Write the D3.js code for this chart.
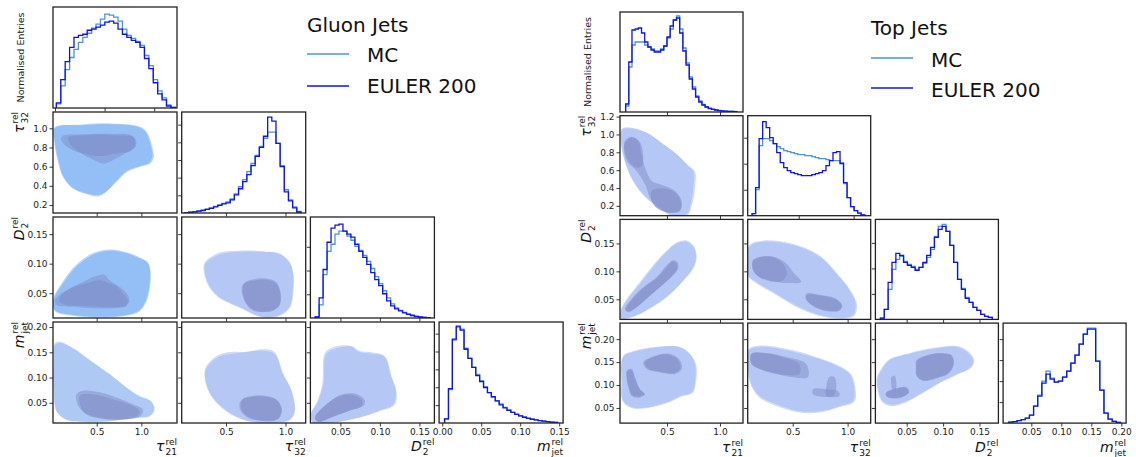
<!DOCTYPE html>
<html>
<head>
<meta charset="utf-8">
<script src="https://cdn.jsdelivr.net/npm/d3@7"></script>
<style>
  body { margin: 0; background: #fff; }
  text { font-family: "DejaVu Sans", sans-serif; }
</style>
</head>
<body>
<svg id="chart"></svg>
<script>
// ---------------- data ----------------
const variables = ["tau21", "tau32", "D2", "mjet"];
const models = ["MC", "EULER 200"];
const titles = ["Gluon Jets", "Top Jets"];

// tick values
const gluonXTicks = { tau21: [0.5, 1.0], tau32: [0.5, 1.0], D2: [0.05, 0.10, 0.15], mjet: [0.00, 0.05, 0.10, 0.15] };
const gluonYTicks = { tau32: [0.2, 0.4, 0.6, 0.8, 1.0], D2: [0.05, 0.10, 0.15], mjet: [0.05, 0.10, 0.15, 0.20] };
const gluonHistXTicks = { tau21: [0.0, 0.5, 1.0], tau32: [0.5, 1.0], D2: [0.05, 0.10, 0.15], mjet: [0.00, 0.05, 0.10, 0.15] };
const topXTicks = { tau21: [0.5, 1.0], tau32: [0.5, 1.0], D2: [0.05, 0.10, 0.15], mjet: [0.05, 0.10, 0.15, 0.20] };
const topYTicks = { tau32: [0.2, 0.4, 0.6, 0.8, 1.0, 1.2], D2: [0.05, 0.10, 0.15], mjet: [0.05, 0.10, 0.15, 0.20] };
// density ticks on the diagonal (fraction of panel height)
const gluonHistYTicks = [null, [0.175, 0.35, 0.525, 0.70, 0.875], [0.235, 0.47, 0.705], [0.177, 0.354, 0.531, 0.708, 0.885]];
const topHistYTicks = [null, [0.26, 0.52, 0.78], [0.255, 0.51, 0.765], [0.21, 0.42, 0.63, 0.84]];

// axis limits
const gluonXLim = { tau21: [0.01, 1.40], tau32: [0.127, 1.17], D2: [0.012, 0.169] };
const gluonYLim = { tau32: [0.117, 1.17], D2: [0.008, 0.179], mjet: [0.01, 0.21] };
const gluonHistLim = { tau21: [-0.02, 1.23], tau32: [0.127, 1.17], D2: [0.012, 0.169], mjet: [-0.004, 0.155] };
const topXLim = { tau21: [0.057, 1.217], tau32: [0.09, 1.21], D2: [0.007, 0.176] };
const topYLim = { tau32: [0.09, 1.21], D2: [0.014, 0.193], mjet: [0.017, 0.235] };
const topHistLim = { tau21: [0.057, 1.217], tau32: [0.036, 1.155], D2: [0.007, 0.176], mjet: [0.003, 0.208] };

// histograms: [first edge, bin width] and normalised bin heights
const gluonTau21Bins = [0.014, 0.0444];
const gluonTau21MC = [0.04,0.22,0.38,0.50,0.58,0.65,0.70,0.74,0.79,0.83,0.88,0.93,0.92,0.90,0.86,0.78,0.72,0.69,0.66,0.62,0.52,0.42,0.28,0.17,0.10,0.03,0.005];
const gluonTau21Euler = [0.05,0.28,0.46,0.60,0.70,0.72,0.73,0.77,0.78,0.80,0.82,0.85,0.86,0.84,0.78,0.73,0.70,0.67,0.65,0.60,0.49,0.39,0.25,0.14,0.08,0.02,0.005];
const gluonTau32Bins = [0.15, 0.035];
const gluonTau32MC = [0.004,0.009,0.014,0.02,0.028,0.038,0.05,0.065,0.08,0.095,0.11,0.14,0.19,0.26,0.33,0.41,0.49,0.57,0.66,0.74,0.80,0.80,0.69,0.47,0.23,0.13,0.06,0.015];
const gluonTau32Euler = [0.003,0.008,0.012,0.018,0.025,0.035,0.045,0.06,0.075,0.09,0.10,0.13,0.18,0.24,0.31,0.38,0.47,0.56,0.65,0.76,0.95,0.91,0.69,0.46,0.21,0.12,0.05,0.01];
const gluonD2Bins = [0.018, 0.00503];
const gluonD2MC = [0.01,0.13,0.43,0.66,0.73,0.83,0.86,0.86,0.81,0.77,0.71,0.67,0.62,0.56,0.49,0.41,0.34,0.27,0.20,0.14,0.10,0.075,0.055,0.04,0.028,0.017,0.01,0.006,0.003];
const gluonD2Euler = [0.01,0.20,0.48,0.75,0.89,0.92,0.93,0.86,0.83,0.80,0.73,0.66,0.60,0.53,0.45,0.38,0.32,0.24,0.17,0.12,0.09,0.07,0.05,0.035,0.025,0.015,0.01,0.006,0.003];
const gluonMjetBins = [0.003, 0.005];
const gluonMjetMC = [0.04,0.33,0.82,0.95,0.93,0.74,0.64,0.55,0.48,0.42,0.36,0.30,0.26,0.22,0.19,0.155,0.13,0.105,0.087,0.07,0.058,0.047,0.038,0.03,0.024,0.018,0.013,0.009,0.005];
const gluonMjetEuler = [0.04,0.34,0.83,0.96,0.92,0.73,0.64,0.55,0.47,0.41,0.35,0.30,0.26,0.22,0.18,0.15,0.125,0.105,0.085,0.07,0.057,0.046,0.037,0.03,0.024,0.018,0.013,0.009,0.005];

const topTau21Bins = [0.11, 0.03];
const topTau21MC = [0.06,0.45,0.67,0.70,0.70,0.70,0.67,0.65,0.63,0.61,0.61,0.63,0.66,0.74,0.83,0.92,0.96,0.83,0.64,0.49,0.35,0.25,0.16,0.11,0.075,0.05,0.037,0.028,0.02,0.015,0.011,0.008,0.006,0.005,0.004];
const topTau21Euler = [0.08,0.50,0.82,0.83,0.84,0.79,0.70,0.65,0.62,0.60,0.60,0.62,0.66,0.75,0.86,0.92,0.94,0.79,0.61,0.47,0.33,0.23,0.15,0.10,0.07,0.05,0.035,0.027,0.02,0.014,0.01,0.008,0.006,0.005,0.004];
const topTau32Bins = [0.076, 0.032];
const topTau32MC = [0.02,0.26,0.70,0.77,0.77,0.75,0.72,0.69,0.67,0.65,0.64,0.63,0.62,0.61,0.61,0.60,0.60,0.59,0.58,0.57,0.57,0.56,0.55,0.55,0.55,0.53,0.32,0.18,0.09,0.05,0.025,0.008];
const topTau32Euler = [0.02,0.28,0.77,0.94,0.88,0.78,0.72,0.63,0.53,0.48,0.45,0.43,0.42,0.41,0.40,0.40,0.40,0.41,0.42,0.43,0.45,0.50,0.55,0.63,0.64,0.52,0.33,0.18,0.09,0.05,0.025,0.008];
const topD2Bins = [0.0139, 0.0053];
const topD2MC = [0.013,0.10,0.30,0.50,0.60,0.63,0.58,0.55,0.53,0.50,0.52,0.56,0.62,0.70,0.83,0.93,0.95,0.88,0.74,0.57,0.40,0.31,0.22,0.17,0.12,0.09,0.05,0.03,0.02];
const topD2Euler = [0.013,0.10,0.37,0.57,0.66,0.64,0.57,0.54,0.52,0.49,0.52,0.57,0.64,0.72,0.82,0.90,0.93,0.88,0.74,0.57,0.40,0.30,0.21,0.17,0.12,0.09,0.05,0.03,0.02];
const topMjetBins = [0.0124, 0.0069];
const topMjetMC = [0.01,0.015,0.025,0.035,0.05,0.08,0.17,0.28,0.42,0.52,0.45,0.41,0.42,0.46,0.52,0.60,0.68,0.79,0.89,0.95,0.95,0.62,0.33,0.10,0.04,0.017,0.007];
const topMjetEuler = [0.01,0.015,0.025,0.035,0.05,0.08,0.17,0.27,0.40,0.49,0.44,0.41,0.42,0.46,0.52,0.60,0.68,0.79,0.89,0.94,0.94,0.62,0.33,0.10,0.04,0.017,0.007];

// KDE contour outlines (outer = wide level, inner = core level), data units [x, y]
const gluonTau21Tau32 = [
  { model: "MC", level: "outer", pts: [[0.032,1.009],[0.347,1.033],[0.643,1.044],[0.977,1.009],[1.051,0.956],[1.106,0.816],[1.125,0.710],[1.088,0.640],[0.977,0.605],[0.829,0.552],[0.717,0.447],[0.606,0.342],[0.532,0.307],[0.384,0.324],[0.236,0.377],[0.125,0.500],[0.069,0.675],[0.032,0.851]] },
  { model: "EULER", level: "outer", pts: [[0.025,1.000],[0.330,1.040],[0.660,1.050],[0.990,1.015],[1.070,0.950],[1.125,0.800],[1.140,0.700],[1.100,0.630],[0.990,0.600],[0.840,0.545],[0.720,0.440],[0.600,0.330],[0.520,0.290],[0.380,0.315],[0.230,0.372],[0.120,0.495],[0.060,0.670],[0.025,0.850]] },
  { model: "MC", level: "inner", pts: [[0.106,0.914],[0.347,0.938],[0.643,0.942],[0.903,0.921],[0.932,0.833],[0.884,0.763],[0.717,0.738],[0.532,0.710],[0.347,0.738],[0.199,0.788],[0.117,0.851]] },
  { model: "EULER", level: "inner", pts: [[0.180,0.903],[0.384,0.928],[0.680,0.928],[0.921,0.903],[0.940,0.815],[0.829,0.745],[0.680,0.668],[0.569,0.633],[0.458,0.675],[0.347,0.728],[0.217,0.816]] }
];
const gluonTau21D2 = [
  { model: "MC", level: "outer", pts: [[0.014,0.038],[0.125,0.067],[0.273,0.095],[0.458,0.115],[0.643,0.122],[0.829,0.118],[0.977,0.109],[1.069,0.103],[1.095,0.089],[1.088,0.061],[1.051,0.038],[0.977,0.021],[0.829,0.013],[0.532,0.010],[0.236,0.013],[0.032,0.021]] },
  { model: "EULER", level: "outer", pts: [[0.012,0.040],[0.120,0.070],[0.270,0.098],[0.460,0.118],[0.650,0.124],[0.840,0.119],[0.990,0.110],[1.080,0.100],[1.105,0.086],[1.095,0.058],[1.055,0.035],[0.980,0.019],[0.830,0.012],[0.530,0.009],[0.230,0.012],[0.030,0.020]] },
  { model: "MC", level: "inner", pts: [[0.088,0.044],[0.199,0.058],[0.347,0.069],[0.495,0.079],[0.588,0.081],[0.643,0.072],[0.717,0.064],[0.810,0.047],[0.847,0.038],[0.829,0.028],[0.643,0.026],[0.421,0.028],[0.162,0.030],[0.088,0.035]] },
  { model: "EULER", level: "inner", pts: [[0.032,0.038],[0.162,0.055],[0.384,0.067],[0.532,0.072],[0.643,0.067],[0.754,0.061],[0.847,0.047],[0.866,0.035],[0.791,0.027],[0.532,0.024],[0.236,0.027],[0.051,0.030]] }
];
const gluonTau21Mjet = [
  { model: "MC", level: "outer", pts: [[0.032,0.164],[0.088,0.169],[0.236,0.157],[0.421,0.134],[0.643,0.107],[0.829,0.081],[0.977,0.064],[1.106,0.054],[1.143,0.037],[1.088,0.024],[0.903,0.021],[0.643,0.014],[0.347,0.013],[0.162,0.017],[0.051,0.034],[0.021,0.081],[0.021,0.134]] },
  { model: "EULER", level: "outer", pts: [[0.030,0.168],[0.090,0.171],[0.240,0.158],[0.425,0.135],[0.650,0.106],[0.835,0.080],[0.985,0.062],[1.115,0.052],[1.150,0.036],[1.095,0.023],[0.905,0.020],[0.640,0.013],[0.345,0.012],[0.160,0.016],[0.048,0.034],[0.018,0.081],[0.018,0.134]] },
  { model: "MC", level: "inner", pts: [[0.273,0.067],[0.347,0.074],[0.532,0.071],[0.717,0.061],[0.903,0.047],[1.014,0.037],[0.995,0.024],[0.829,0.017],[0.532,0.019],[0.384,0.027],[0.292,0.044]] },
  { model: "EULER", level: "inner", pts: [[0.310,0.064],[0.458,0.067],[0.680,0.057],[0.903,0.044],[0.977,0.034],[0.940,0.022],[0.717,0.017],[0.495,0.022],[0.347,0.034]] }
];
const gluonTau32D2 = [
  { model: "MC", level: "outer", pts: [[0.328,0.100],[0.441,0.115],[0.610,0.120],[0.808,0.120],[0.949,0.117],[1.034,0.103],[1.062,0.084],[1.062,0.058],[1.034,0.027],[0.949,0.013],[0.808,0.010],[0.610,0.027],[0.441,0.044],[0.356,0.064],[0.322,0.084]] },
  { model: "EULER", level: "outer", pts: [[0.318,0.101],[0.435,0.118],[0.605,0.122],[0.800,0.121],[0.955,0.116],[1.040,0.100],[1.068,0.082],[1.068,0.057],[1.040,0.026],[0.955,0.012],[0.805,0.009],[0.605,0.026],[0.435,0.043],[0.350,0.063],[0.315,0.085]] },
  { model: "MC", level: "inner", pts: [[0.652,0.067],[0.723,0.073],[0.836,0.075],[0.921,0.069],[0.955,0.050],[0.949,0.030],[0.893,0.020],[0.780,0.019],[0.695,0.027],[0.644,0.047]] },
  { model: "EULER", level: "inner", pts: [[0.638,0.064],[0.751,0.072],[0.864,0.072],[0.935,0.064],[0.963,0.044],[0.943,0.027],[0.836,0.019],[0.723,0.021],[0.652,0.038]] }
];
const gluonTau32Mjet = [
  { model: "MC", level: "outer", pts: [[0.342,0.121],[0.441,0.141],[0.554,0.147],[0.667,0.151],[0.808,0.153],[0.907,0.147],[0.977,0.107],[1.048,0.074],[1.076,0.034],[1.034,0.017],[0.893,0.011],[0.695,0.014],[0.554,0.027],[0.441,0.047],[0.356,0.074],[0.322,0.107]] },
  { model: "EULER", level: "outer", pts: [[0.335,0.123],[0.440,0.145],[0.560,0.151],[0.670,0.150],[0.800,0.156],[0.905,0.151],[0.985,0.106],[1.055,0.073],[1.080,0.034],[1.040,0.016],[0.890,0.010],[0.690,0.013],[0.550,0.026],[0.435,0.046],[0.350,0.074],[0.318,0.108]] },
  { model: "MC", level: "inner", pts: [[0.624,0.054],[0.723,0.062],[0.836,0.062],[0.935,0.054],[0.972,0.034],[0.935,0.017],[0.808,0.014],[0.681,0.021],[0.616,0.037]] },
  { model: "EULER", level: "inner", pts: [[0.640,0.057],[0.730,0.064],[0.830,0.064],[0.925,0.056],[0.965,0.036],[0.930,0.018],[0.810,0.015],[0.690,0.022],[0.628,0.038]] }
];
const gluonD2Mjet = [
  { model: "MC", level: "outer", pts: [[0.0306,0.141],[0.0348,0.151],[0.0474,0.159],[0.0643,0.161],[0.0728,0.151],[0.0896,0.147],[0.1065,0.141],[0.115,0.101],[0.120,0.074],[0.117,0.047],[0.098,0.034],[0.0728,0.021],[0.039,0.011],[0.0158,0.011],[0.013,0.027],[0.0221,0.054],[0.0285,0.087]] },
  { model: "EULER", level: "outer", pts: [[0.029,0.143],[0.034,0.155],[0.048,0.163],[0.065,0.162],[0.074,0.153],[0.089,0.150],[0.105,0.143],[0.114,0.102],[0.121,0.074],[0.119,0.046],[0.099,0.033],[0.073,0.020],[0.039,0.010],[0.015,0.010],[0.0125,0.027],[0.021,0.054],[0.027,0.087]] },
  { model: "MC", level: "inner", pts: [[0.0179,0.021],[0.0306,0.044],[0.0474,0.064],[0.0601,0.069],[0.0728,0.066],[0.0812,0.054],[0.0791,0.044],[0.0601,0.034],[0.039,0.022],[0.0221,0.013]] },
  { model: "EULER", level: "inner", pts: [[0.0175,0.020],[0.029,0.043],[0.046,0.061],[0.059,0.066],[0.071,0.063],[0.078,0.053],[0.077,0.043],[0.059,0.033],[0.039,0.021],[0.022,0.012]] }
];

const topTau21Tau32 = [
  { model: "MC", level: "outer", pts: [[0.073,1.060],[0.151,1.079],[0.309,1.023],[0.466,0.892],[0.592,0.779],[0.702,0.648],[0.749,0.592],[0.749,0.405],[0.724,0.217],[0.686,0.105],[0.560,0.086],[0.434,0.180],[0.309,0.292],[0.183,0.480],[0.104,0.704],[0.066,0.929]] },
  { model: "EULER", level: "outer", pts: [[0.070,1.050],[0.150,1.070],[0.310,1.015],[0.470,0.885],[0.600,0.770],[0.712,0.640],[0.765,0.585],[0.765,0.400],[0.735,0.210],[0.695,0.095],[0.560,0.075],[0.430,0.175],[0.300,0.290],[0.178,0.480],[0.100,0.705],[0.063,0.930]] },
  { model: "MC", level: "inner", pts: [[0.104,0.910],[0.167,0.967],[0.230,0.929],[0.261,0.779],[0.293,0.629],[0.356,0.480],[0.434,0.442],[0.576,0.367],[0.639,0.255],[0.623,0.143],[0.529,0.124],[0.403,0.180],[0.340,0.292],[0.293,0.442],[0.214,0.592],[0.120,0.704],[0.095,0.817]] },
  { model: "EULER", level: "inner", pts: [[0.104,0.929],[0.167,0.974],[0.246,0.910],[0.277,0.742],[0.261,0.648],[0.214,0.629],[0.151,0.686],[0.104,0.798]] },
  { model: "EULER", level: "inner", pts: [[0.356,0.367],[0.466,0.397],[0.576,0.349],[0.629,0.255],[0.623,0.150],[0.529,0.120],[0.419,0.161],[0.356,0.255]] }
];
const topTau21D2 = [
  { model: "MC", level: "outer", pts: [[0.066,0.030],[0.120,0.048],[0.246,0.078],[0.371,0.108],[0.497,0.135],[0.592,0.150],[0.686,0.153],[0.749,0.144],[0.774,0.126],[0.749,0.108],[0.654,0.084],[0.529,0.060],[0.403,0.042],[0.246,0.025],[0.120,0.016],[0.066,0.017]] },
  { model: "EULER", level: "outer", pts: [[0.063,0.031],[0.115,0.049],[0.240,0.080],[0.365,0.110],[0.495,0.137],[0.595,0.152],[0.690,0.155],[0.755,0.145],[0.780,0.125],[0.752,0.106],[0.650,0.082],[0.525,0.058],[0.400,0.040],[0.245,0.023],[0.120,0.015],[0.063,0.016]] },
  { model: "MC", level: "inner", pts: [[0.104,0.033],[0.167,0.051],[0.277,0.072],[0.403,0.090],[0.497,0.111],[0.560,0.120],[0.598,0.117],[0.607,0.105],[0.544,0.090],[0.434,0.072],[0.324,0.054],[0.214,0.036],[0.136,0.027]] },
  { model: "EULER", level: "inner", pts: [[0.110,0.031],[0.175,0.050],[0.285,0.071],[0.410,0.089],[0.500,0.108],[0.555,0.118],[0.590,0.114],[0.595,0.104],[0.530,0.089],[0.425,0.070],[0.315,0.052],[0.210,0.035],[0.140,0.028]] }
];
const topTau21Mjet = [
  { model: "MC", level: "outer", pts: [[0.088,0.161],[0.183,0.172],[0.434,0.183],[0.623,0.183],[0.717,0.168],[0.765,0.146],[0.765,0.109],[0.733,0.084],[0.623,0.076],[0.529,0.065],[0.371,0.054],[0.183,0.051],[0.088,0.065],[0.073,0.109]] },
  { model: "EULER", level: "outer", pts: [[0.085,0.163],[0.185,0.174],[0.440,0.184],[0.625,0.182],[0.720,0.166],[0.775,0.145],[0.775,0.108],[0.745,0.083],[0.630,0.074],[0.530,0.063],[0.370,0.052],[0.180,0.049],[0.085,0.063],[0.070,0.109]] },
  { model: "MC", level: "inner", pts: [[0.277,0.150],[0.403,0.165],[0.529,0.168],[0.623,0.154],[0.639,0.135],[0.576,0.124],[0.434,0.128],[0.309,0.135]] },
  { model: "MC", level: "inner", pts: [[0.120,0.131],[0.167,0.135],[0.199,0.117],[0.246,0.091],[0.293,0.080],[0.246,0.073],[0.167,0.076],[0.136,0.095],[0.120,0.113]] },
  { model: "EULER", level: "inner", pts: [[0.290,0.149],[0.410,0.164],[0.520,0.166],[0.610,0.153],[0.625,0.136],[0.565,0.126],[0.440,0.129],[0.320,0.136]] },
  { model: "EULER", level: "inner", pts: [[0.125,0.130],[0.165,0.133],[0.195,0.116],[0.240,0.092],[0.285,0.081],[0.240,0.075],[0.170,0.078],[0.140,0.095],[0.125,0.112]] }
];
const topTau32D2 = [
  { model: "MC", level: "outer", pts: [[0.108,0.144],[0.229,0.153],[0.502,0.147],[0.745,0.126],[0.896,0.096],[1.017,0.066],[1.072,0.042],[1.048,0.022],[0.926,0.017],[0.745,0.022],[0.563,0.036],[0.351,0.060],[0.169,0.081],[0.096,0.093]] },
  { model: "EULER", level: "outer", pts: [[0.100,0.146],[0.225,0.155],[0.505,0.149],[0.755,0.127],[0.905,0.096],[1.030,0.065],[1.085,0.041],[1.060,0.020],[0.930,0.015],[0.745,0.020],[0.555,0.034],[0.345,0.058],[0.165,0.079],[0.092,0.092]] },
  { model: "MC", level: "inner", pts: [[0.138,0.120],[0.229,0.127],[0.351,0.125],[0.442,0.114],[0.502,0.099],[0.578,0.081],[0.472,0.079],[0.351,0.081],[0.199,0.090],[0.138,0.102]] },
  { model: "MC", level: "inner", pts: [[0.623,0.060],[0.745,0.058],[0.896,0.051],[0.951,0.039],[0.926,0.030],[0.805,0.029],[0.684,0.038],[0.617,0.051]] },
  { model: "EULER", level: "inner", pts: [[0.138,0.118],[0.229,0.126],[0.340,0.124],[0.420,0.112],[0.445,0.095],[0.400,0.083],[0.300,0.082],[0.190,0.090],[0.140,0.103]] },
  { model: "EULER", level: "inner", pts: [[0.630,0.058],[0.750,0.057],[0.890,0.050],[0.945,0.038],[0.920,0.030],[0.805,0.030],[0.690,0.038],[0.625,0.050]] }
];
const topTau32Mjet = [
  { model: "MC", level: "outer", pts: [[0.102,0.176],[0.199,0.183],[0.442,0.176],[0.684,0.161],[0.866,0.146],[1.017,0.124],[1.063,0.087],[1.048,0.065],[0.926,0.054],[0.745,0.043],[0.563,0.043],[0.351,0.058],[0.199,0.076],[0.123,0.102],[0.096,0.146]] },
  { model: "EULER", level: "outer", pts: [[0.098,0.178],[0.200,0.186],[0.445,0.179],[0.690,0.163],[0.875,0.147],[1.030,0.124],[1.075,0.086],[1.060,0.063],[0.930,0.052],[0.745,0.040],[0.560,0.040],[0.345,0.055],[0.195,0.073],[0.118,0.100],[0.090,0.147]] },
  { model: "MC", level: "inner", pts: [[0.123,0.168],[0.260,0.170],[0.442,0.161],[0.623,0.146],[0.638,0.117],[0.502,0.117],[0.351,0.124],[0.199,0.135],[0.123,0.146]] },
  { model: "MC", level: "inner", pts: [[0.684,0.091],[0.805,0.091],[0.911,0.087],[0.926,0.076],[0.805,0.074],[0.684,0.080]] },
  { model: "EULER", level: "inner", pts: [[0.123,0.167],[0.260,0.169],[0.420,0.160],[0.560,0.146],[0.560,0.124],[0.440,0.122],[0.300,0.128],[0.180,0.137],[0.125,0.147]] },
  { model: "EULER", level: "inner", pts: [[0.805,0.095],[0.835,0.118],[0.881,0.117],[0.896,0.091],[0.866,0.076],[0.805,0.076]] }
];
const topD2Mjet = [
  { model: "MC", level: "outer", pts: [[0.0149,0.131],[0.0264,0.154],[0.0542,0.168],[0.0866,0.179],[0.119,0.183],[0.133,0.172],[0.141,0.154],[0.138,0.139],[0.119,0.124],[0.096,0.106],[0.0727,0.084],[0.0496,0.065],[0.0311,0.057],[0.0172,0.065],[0.0102,0.095],[0.0102,0.117]] },
  { model: "EULER", level: "outer", pts: [[0.0140,0.133],[0.0260,0.156],[0.0545,0.170],[0.0870,0.181],[0.1200,0.185],[0.1350,0.173],[0.1430,0.154],[0.1390,0.138],[0.1190,0.122],[0.0950,0.104],[0.0720,0.082],[0.0490,0.062],[0.0310,0.054],[0.0165,0.062],[0.0095,0.095],[0.0095,0.118]] },
  { model: "MC", level: "inner", pts: [[0.0635,0.154],[0.0774,0.165],[0.0959,0.170],[0.112,0.165],[0.115,0.146],[0.107,0.124],[0.0913,0.115],[0.0727,0.109],[0.0635,0.120],[0.0626,0.139]] },
  { model: "MC", level: "inner", pts: [[0.0218,0.084],[0.0357,0.093],[0.0496,0.095],[0.0533,0.084],[0.0450,0.074],[0.0288,0.071],[0.0218,0.076]] },
  { model: "EULER", level: "inner", pts: [[0.0640,0.153],[0.0780,0.164],[0.0960,0.169],[0.111,0.164],[0.114,0.146],[0.106,0.125],[0.0910,0.116],[0.0730,0.110],[0.0640,0.121],[0.0630,0.139]] },
  { model: "EULER", level: "inner", pts: [[0.0220,0.083],[0.0355,0.092],[0.0490,0.094],[0.0530,0.084],[0.0450,0.075],[0.0290,0.072],[0.0220,0.076]] },
  { model: "EULER", level: "inner", pts: [[0.0288,0.117],[0.0334,0.120],[0.0357,0.106],[0.0348,0.091],[0.0301,0.091],[0.0288,0.102]] }
];

// ---------------- drawing ----------------
const width = 1136, height = 457;
const svg = d3.select("#chart").attr("width", width).attr("height", height);

const mcColor = "#4b95d3";
const eulerColor = "#1212e4";
const innerFill = "#7d88c4";
const fillAlpha = 0.45;

const fmt = { tau21: d3.format(".1f"), tau32: d3.format(".1f"), D2: d3.format(".2f"), mjet: d3.format(".2f") };
const symbols = { tau21: ["τ", "21"], tau32: ["τ", "32"], D2: ["D", "2"], mjet: ["m", "jet"] };

const corners = [
  {
    title: titles[0],
    cols: [53, 181.7, 310.4, 439.1], rows: [7, 112, 217, 322], pw: 124, ph: 101,
    xLim: gluonXLim, yLim: gluonYLim, histLim: gluonHistLim,
    xTicks: gluonXTicks, yTicks: gluonYTicks, histXTicks: gluonHistXTicks, histYTicks: gluonHistYTicks,
    hists: {
      tau21: [gluonTau21Bins, gluonTau21MC, gluonTau21Euler],
      tau32: [gluonTau32Bins, gluonTau32MC, gluonTau32Euler],
      D2: [gluonD2Bins, gluonD2MC, gluonD2Euler],
      mjet: [gluonMjetBins, gluonMjetMC, gluonMjetEuler]
    },
    contours: { "1-0": gluonTau21Tau32, "2-0": gluonTau21D2, "3-0": gluonTau21Mjet, "2-1": gluonTau32D2, "3-1": gluonTau32Mjet, "3-2": gluonD2Mjet },
    outerFill: { "1-0": "#66a5f1", "2-0": "#66a5f1", "3-0": "#8cb2f0" },
    labelX: 24, xLabelY: 451,
    legend: { x: 307, titleY: 32, lineY: [54, 86], textY: [62, 93] }
  },
  {
    title: titles[1],
    cols: [620, 747.7, 875.4, 1003.1], rows: [12, 115.7, 219.4, 323.1], pw: 123, ph: 100,
    xLim: topXLim, yLim: topYLim, histLim: topHistLim,
    xTicks: topXTicks, yTicks: topYTicks, histXTicks: topXTicks, histYTicks: topHistYTicks,
    hists: {
      tau21: [topTau21Bins, topTau21MC, topTau21Euler],
      tau32: [topTau32Bins, topTau32MC, topTau32Euler],
      D2: [topD2Bins, topD2MC, topD2Euler],
      mjet: [topMjetBins, topMjetMC, topMjetEuler]
    },
    contours: { "1-0": topTau21Tau32, "2-0": topTau21D2, "3-0": topTau21Mjet, "2-1": topTau32D2, "3-1": topTau32Mjet, "3-2": topD2Mjet },
    outerFill: {},
    labelX: 591, xLabelY: 452,
    legend: { x: 871, titleY: 35, lineY: [58, 88], textY: [67, 97] }
  }
];

// symbol with stacked "rel" superscript and subscript, anchored at its end
function mathLabel(parent, v, tx, ty, rotate) {
  const g = parent.append("g")
    .attr("transform", `translate(${tx},${ty})` + (rotate ? " rotate(-90)" : ""));
  const inner = g.append("g");
  const main = inner.append("text").attr("font-size", 14).attr("font-style", "italic")
    .attr("fill", "#111").text(symbols[v][0]);
  const w = main.node().getComputedTextLength() + 1;
  const sup = inner.append("text").attr("x", w).attr("y", -6.5).attr("font-size", 9).attr("fill", "#111").text("rel");
  const sub = inner.append("text").attr("x", w).attr("y", 3.5).attr("font-size", 9).attr("fill", "#111").text(symbols[v][1]);
  const total = w + Math.max(sup.node().getComputedTextLength(), sub.node().getComputedTextLength());
  inner.attr("transform", `translate(${-total},0)`);
}

function stepPoints(bins, vals) {
  const [e0, bw] = bins;
  const pts = [[e0, 0]];
  vals.forEach((h, i) => pts.push([e0 + i * bw, h]));
  pts.push([e0 + vals.length * bw, 0]);
  return pts;
}

let clipId = 0;

corners.forEach((c, ci) => {
  const root = svg.append("g");
  const n = variables.length;

  for (let r = 0; r < n; r++) {
    for (let k = 0; k <= r; k++) {
      const g = root.append("g").attr("transform", `translate(${c.cols[k]},${c.rows[r]})`);
      const id = "clip" + (clipId++);
      g.append("clipPath").attr("id", id).append("rect").attr("width", c.pw).attr("height", c.ph);
      const plot = g.append("g").attr("clip-path", `url(#${id})`);
      const vx = variables[k];

      if (k === r) {
        // diagonal: normalised histograms
        const x = d3.scaleLinear().domain(c.histLim[vx]).range([0, c.pw]);
        const y = d3.scaleLinear().domain([0, 1]).range([c.ph, 0]);
        const line = d3.line().x(d => x(d[0])).y(d => y(d[1])).curve(d3.curveStepAfter);
        const [bins, mc, eu] = c.hists[vx];
        plot.append("path").attr("d", line(stepPoints(bins, mc)))
          .attr("fill", "none").attr("stroke", mcColor).attr("stroke-width", 1.3);
        plot.append("path").attr("d", line(stepPoints(bins, eu)))
          .attr("fill", "none").attr("stroke", eulerColor).attr("stroke-width", 1.3);

        g.append("g").attr("transform", `translate(0,${c.ph})`)
          .call(d3.axisBottom(x).tickValues(c.histXTicks[vx]).tickSize(3.5).tickPadding(2.5)
            .tickFormat(r === n - 1 ? fmt[vx] : ""));
        if (c.histYTicks[r]) {
          g.append("g").call(d3.axisLeft(y).tickValues(c.histYTicks[r]).tickSize(3.5).tickFormat(""));
        }
      } else {
        const vy = variables[r];
        const x = d3.scaleLinear().domain(c.xLim[vx]).range([0, c.pw]);
        const y = d3.scaleLinear().domain(c.yLim[vy]).range([c.ph, 0]);
        const shape = d3.line().x(d => x(d[0])).y(d => y(d[1])).curve(d3.curveCatmullRomClosed.alpha(0.5));
        const key = `${r}-${k}`;
        const layers = c.contours[key];
        const outerFill = c.outerFill[key] || "#94b0ef";
        ["outer", "inner"].forEach(level => {
          layers.filter(d => d.level === level).forEach(d => {
            plot.append("path").attr("d", shape(d.pts))
              .attr("fill", level === "outer" ? outerFill : innerFill)
              .attr("fill-opacity", fillAlpha);
          });
        });

        g.append("g").attr("transform", `translate(0,${c.ph})`)
          .call(d3.axisBottom(x).tickValues(c.xTicks[vx]).tickSize(3.5).tickPadding(2.5)
            .tickFormat(r === n - 1 ? fmt[vx] : ""));
        g.append("g")
          .call(d3.axisLeft(y).tickValues(c.yTicks[vy]).tickSize(3.5).tickPadding(2)
            .tickFormat(k === 0 ? fmt[vy] : ""));
      }

      g.selectAll(".domain").remove();
      g.selectAll(".tick line").attr("stroke", "#222").attr("stroke-width", 0.9);
      g.selectAll(".tick text").attr("font-size", 9).attr("fill", "#222")
        .attr("font-family", "DejaVu Sans, sans-serif");
      g.append("rect").attr("width", c.pw).attr("height", c.ph)
        .attr("fill", "none").attr("stroke", "#222").attr("stroke-width", 1.3);
    }
  }

  // axis labels
  root.append("text")
    .attr("transform", `translate(${c.labelX},${c.rows[0] + c.ph / 2}) rotate(-90)`)
    .attr("text-anchor", "middle").attr("font-size", 9.5).attr("fill", "#222")
    .text("Normalised Entries");
  for (let r = 1; r < n; r++) mathLabel(root, variables[r], c.labelX, c.rows[r], true);
  for (let k = 0; k < n; k++) mathLabel(root, variables[k], c.cols[k] + c.pw, c.xLabelY, false);

  // legend
  const lg = root.append("g").attr("transform", `translate(${c.legend.x},0)`);
  lg.append("text").attr("x", 0).attr("y", c.legend.titleY).attr("font-size", 20).attr("fill", "#111").text(c.title);
  models.forEach((m, i) => {
    lg.append("line").attr("x1", 0).attr("x2", 42)
      .attr("y1", c.legend.lineY[i]).attr("y2", c.legend.lineY[i])
      .attr("stroke", i === 0 ? mcColor : eulerColor).attr("stroke-width", 1.5);
    lg.append("text").attr("x", 60).attr("y", c.legend.textY[i]).attr("font-size", 20).attr("fill", "#111").text(m);
  });
});
</script>
</body>
</html>
